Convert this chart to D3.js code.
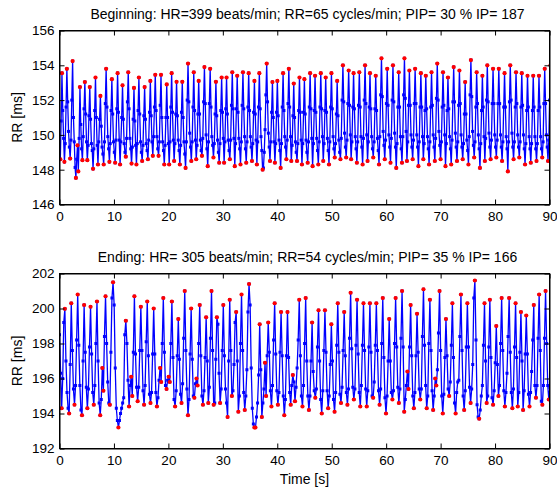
<!DOCTYPE html>
<html>
<head>
<meta charset="utf-8">
<script src="https://cdn.jsdelivr.net/npm/d3@7"></script>
<style>
  body { margin: 0; background: #fff; }
  text { font-family: "Liberation Sans", Arial, Helvetica, sans-serif; }
</style>
</head>
<body>
<div id="chart"></div>
<script>
// RR intervals [ms], beat by beat (peaks / troughs estimated per breath)
var beginningRR = [
  149.4, 148.6, 150.8, 153.55,
  151.4, 149.8, 148.45, 149.5, 151.6, 153.8,
  151.9, 150.2, 149.3, 148.64, 149.7, 152.0, 154.24,
  151.0, 149.6, 148.13, 147.53, 148.6, 149.4, 147.9, 149.8, 152.75,
  150.6, 149.2, 148.55, 149.9, 151.5, 153.04,
  151.2, 149.6, 148.55, 149.4, 151.1, 152.75,
  150.9, 149.5, 149.1, 148.05, 149.2, 151.4, 153.3,
  151.0, 149.4, 148.3, 149.6, 150.9, 152.24,
  150.5, 149.3, 148.9, 148.3, 149.6, 151.8, 153.8,
  151.6, 149.9, 149.2, 148.45, 149.5, 151.4, 153.2,
  151.2, 149.6, 149.0, 148.4, 149.7, 151.5, 153.55,
  151.3, 149.7, 148.3, 149.6, 151.0, 152.85,
  150.9, 149.5, 149.0, 148.75, 149.8, 151.9, 153.6,
  151.5, 149.8, 149.2, 148.35, 149.3, 150.9, 152.7,
  150.8, 149.4, 148.3, 149.5, 151.4, 153.3,
  151.2, 149.6, 149.0, 148.5, 149.4, 151.1, 152.75,
  150.9, 149.5, 149.1, 148.6, 149.7, 151.3, 153.1,
  151.1, 149.6, 148.8, 149.9, 151.6, 153.45,
  151.4, 149.9, 149.2, 148.8, 149.6, 151.7, 153.45,
  151.0, 149.6, 149.1, 148.3, 149.4, 151.0, 152.9,
  151.0, 149.5, 148.3, 149.6, 151.6, 153.55,
  151.3, 149.7, 148.5, 149.5, 151.2, 153.05,
  151.1, 149.7, 149.1, 148.3, 149.4, 151.3, 153.05,
  151.0, 149.6, 148.9, 148.1, 149.6, 152.0, 154.1,
  151.9, 150.1, 149.3, 148.5, 149.6, 151.6, 153.6,
  151.4, 149.7, 148.6, 149.4, 151.2, 153.1,
  151.2, 149.7, 149.1, 148.8, 149.8, 151.9, 153.9,
  151.8, 150.0, 149.2, 148.2, 149.6, 151.8, 153.8,
  151.6, 149.9, 149.4, 148.7, 149.5, 151.2, 153.05,
  151.1, 149.7, 149.0, 148.4, 149.5, 151.4, 153.3,
  151.3, 149.8, 148.4, 149.6, 151.5, 153.3,
  151.2, 149.7, 149.1, 148.6, 149.7, 151.7, 153.6,
  151.5, 149.8, 148.2, 149.5, 151.5, 153.4,
  151.3, 149.8, 149.2, 148.3, 149.6, 151.7, 153.6,
  151.5, 149.9, 149.2, 148.4, 149.6, 151.6, 153.55,
  151.4, 149.9, 149.3, 148.5, 149.5, 151.3, 153.1,
  151.2, 149.7, 148.3, 149.6, 151.6, 153.55,
  151.5, 149.9, 149.1, 148.0, 148.1, 149.0, 150.3, 152.3, 154.1,
  151.9, 150.1, 149.3, 148.5, 149.6, 151.3, 153.04,
  151.0, 149.6, 148.4, 149.5, 151.3, 153.1,
  151.1, 149.7, 149.1, 148.1, 149.5, 151.6, 153.55,
  151.4, 149.9, 149.3, 148.6, 149.7, 151.8, 153.8,
  151.6, 149.9, 148.5, 149.4, 151.1, 152.95,
  151.0, 149.6, 149.0, 148.5, 149.5, 151.4, 153.3,
  151.3, 149.7, 148.3, 149.5, 151.3, 153.2,
  151.2, 149.7, 149.0, 148.4, 149.6, 151.6, 153.55,
  151.5, 149.8, 148.2, 149.5, 151.4, 153.4,
  151.3, 149.8, 149.1, 148.3, 149.6, 151.6, 153.55,
  151.5, 149.9, 148.5, 149.5, 151.4, 153.3,
  151.3, 149.8, 149.1, 148.3, 149.6, 151.6, 153.55,
  151.5, 149.9, 149.2, 148.7, 149.5, 151.2, 153.1,
  151.1, 149.7, 149.0, 148.6, 149.8, 152.0, 154.0,
  151.9, 150.1, 149.3, 148.7, 149.7, 151.8, 153.7,
  151.7, 150.0, 148.6, 149.6, 151.6, 153.55,
  151.5, 149.9, 149.2, 148.4, 149.6, 151.7, 153.6,
  151.6, 149.9, 149.3, 148.3, 149.8, 152.0, 154.0,
  151.8, 150.0, 148.5, 149.6, 151.6, 153.55,
  151.5, 149.9, 149.2, 148.7, 149.6, 151.5, 153.4,
  151.4, 149.8, 149.1, 148.3, 149.9, 152.3, 154.4,
  152.2, 150.2, 149.4, 148.6, 149.7, 151.8, 153.8,
  151.7, 150.0, 149.3, 148.4, 149.8, 152.0, 154.0,
  151.9, 150.1, 149.3, 148.1, 149.5, 151.6, 153.6,
  151.6, 149.9, 149.2, 148.4, 149.9, 152.3, 154.4,
  152.1, 150.2, 148.5, 149.6, 151.7, 153.7,
  151.7, 150.0, 149.3, 148.6, 149.7, 151.8, 153.8,
  151.8, 150.0, 149.3, 148.2, 149.6, 151.6, 153.55,
  151.6, 149.9, 148.6, 149.5, 151.4, 153.4,
  151.5, 149.9, 149.2, 148.3, 149.6, 151.6, 153.6,
  151.7, 150.0, 149.3, 148.5, 149.8, 152.1, 154.1,
  152.0, 150.2, 149.4, 148.6, 149.6, 151.6, 153.6,
  151.7, 150.0, 148.2, 149.5, 151.4, 153.3,
  151.5, 149.9, 149.2, 148.3, 149.7, 151.9, 153.9,
  151.9, 150.1, 149.3, 148.5, 149.6, 151.7, 153.7,
  151.8, 150.0, 149.3, 148.6, 149.5, 151.2, 153.04,
  151.2, 149.7, 149.1, 148.3, 149.9, 152.3, 154.3,
  152.2, 150.2, 149.4, 148.7, 149.6, 151.6, 153.6,
  151.8, 150.0, 149.2, 148.1, 149.5, 151.4, 153.4,
  151.6, 149.9, 148.5, 149.8, 152.0, 154.0,
  151.9, 150.1, 149.3, 148.6, 149.7, 151.8, 153.8,
  151.8, 150.0, 149.3, 148.7, 149.7, 151.8, 153.8,
  151.8, 150.0, 149.3, 148.5, 149.6, 151.6, 153.55,
  151.6, 149.9, 149.2, 147.9, 149.6, 151.9, 154.0,
  152.0, 150.1, 149.3, 148.6, 149.6, 151.6, 153.6,
  151.8, 150.0, 149.3, 148.7, 149.6, 151.6, 153.55,
  151.7, 150.0, 149.2, 148.3, 149.5, 151.4, 153.4,
  151.6, 149.9, 149.2, 148.4, 149.5, 151.4, 153.4,
  151.6, 149.9, 149.2, 148.5, 149.5, 151.4, 153.4,
  151.6, 149.9, 149.2, 148.7, 149.6, 151.8, 153.8,
  151.8, 150.0, 149.3, 148.5, 149.7, 152.0, 154.0,
  151.9, 150.1, 149.2, 148.6, 149.5, 151.3, 153.2
]

var endingRR = [
  198.5, 196.3, 194.3, 196.0, 199.2, 199.98,
  197.0, 195.2, 194.3, 194.0, 196.8, 200.3,
  197.6, 195.4, 194.5, 195.6, 198.2, 200.8,
  197.9, 195.6, 194.2, 193.9, 197.0, 200.2,
  197.5, 195.5, 194.3, 195.4, 197.8, 200.1,
  197.4, 195.2, 194.5, 195.6, 198.0, 200.4,
  197.0, 194.6, 193.9, 194.8, 196.6,
  195.3, 198.4, 200.7,
  198.0, 195.8, 194.6, 194.5, 197.5, 200.6, 201.5,
  200.2, 196.6, 194.3, 193.6, 193.2, 193.6, 194.0, 194.3, 194.6, 194.9, 198.5, 199.3,
  198.0, 195.9, 194.4, 195.6, 196.1, 195.0, 197.5, 200.7,
  197.4, 195.5, 194.7, 195.5, 197.6, 200.1,
  197.6, 195.3, 194.5, 195.6, 198.1, 200.4,
  197.3, 195.1, 194.6, 195.2, 197.4, 200.0,
  197.4, 195.2, 194.4, 194.9, 195.9, 196.6,
  195.8, 198.0, 200.6,
  197.5, 195.6, 195.4, 195.9, 196.1,
  195.8, 198.0, 200.4,
  197.2, 194.8, 194.4, 195.3, 197.3, 199.4,
  197.1, 195.1, 194.6, 195.7, 198.3, 201.0,
  197.6, 195.4, 193.9, 194.8, 197.4, 200.0,
  197.1, 195.0, 194.9, 195.7, 196.0,
  195.6, 198.0, 200.2,
  197.3, 195.0, 194.5, 195.3, 197.2, 199.5,
  197.0, 194.6, 195.5, 198.3, 201.0,
  197.6, 194.5, 194.6, 197.1, 199.5,
  199.1, 196.3, 194.6, 195.4, 197.6, 200.2,
  197.3, 195.4, 194.6, 193.8, 197.0, 200.5,
  197.6, 195.0, 195.3, 196.8, 199.2, 199.8,
  197.0, 194.1, 195.0, 198.0, 200.8,
  197.6, 195.2, 194.2, 195.0, 196.5, 199.8, 201.4,
  200.2, 196.6, 194.3, 193.4, 193.2, 193.2, 193.8, 194.6, 196.2, 199.1,
  196.5, 193.8, 194.6, 195.4, 196.9, 195.0, 197.3, 199.2,
  197.5, 195.3, 194.4, 195.6, 198.2, 200.3,
  197.4, 195.3, 194.5, 195.2, 197.5, 199.8,
  197.3, 195.0, 193.9, 194.8, 197.3, 199.8,
  197.2, 195.2, 194.5, 195.6, 196.2, 195.8, 194.7, 195.5, 196.6, 198.2, 200.5,
  197.3, 195.0, 194.4, 195.6, 198.0, 200.6,
  197.0, 195.0, 194.2, 195.0, 197.0, 199.2,
  196.4, 195.3, 194.9, 195.4, 197.8, 199.9,
  197.0, 194.8, 194.0, 195.3, 197.6, 199.9,
  197.5, 195.3, 194.3, 195.0, 196.8, 199.1,
  197.0, 194.8, 194.1, 195.2, 197.9, 200.3,
  197.5, 195.1, 194.6, 195.5, 197.6, 199.8,
  197.3, 195.2, 194.5, 195.4, 198.3, 200.9,
  197.7, 195.5, 194.8, 195.4, 197.9, 200.5,
  197.4, 195.2, 194.4, 195.6, 197.9, 200.3,
  197.6, 195.4, 194.4, 195.3, 197.8, 200.3,
  197.5, 195.0, 194.9, 195.8, 197.9, 200.3,
  197.6, 195.3, 194.5, 195.4, 198.0, 200.6,
  197.2, 194.9, 194.0, 195.0, 197.0, 199.4,
  197.0, 195.2, 194.8, 195.3, 198.0, 200.6,
  197.8, 195.5, 194.6, 195.4, 198.3, 201.0,
  197.8, 194.1, 194.8, 195.6, 196.4,
  195.4, 197.8, 200.2,
  197.3, 195.0, 194.3, 195.2, 197.3, 199.7,
  197.5, 195.4, 194.8, 195.4, 198.4, 201.1,
  197.9, 195.6, 194.3, 195.0, 198.0, 200.5,
  197.6, 195.3, 194.2, 195.0, 196.0, 195.6, 196.5, 198.6, 201.0,
  197.6, 195.0, 194.0, 195.1, 197.2, 199.4,
  197.3, 195.4, 195.0, 195.8, 197.9, 200.3,
  197.2, 194.6, 194.0, 195.2, 195.8,
  195.9, 198.4, 200.8,
  197.6, 195.0, 194.2, 195.3, 197.8, 200.3,
  197.8, 195.5, 194.6, 195.4, 196.8, 200.6, 201.6,
  198.2, 194.5, 193.8, 193.7, 194.2, 195.0, 195.6, 197.9, 200.3,
  197.0, 194.6, 195.0, 197.8, 200.5,
  197.2, 194.9, 194.5, 195.3, 196.9, 199.0,
  196.8, 195.0, 195.6, 198.0, 200.6,
  197.6, 195.3, 194.4, 195.2, 196.3, 198.4, 200.6,
  197.5, 195.2, 194.3, 195.4, 197.8, 200.3,
  197.2, 194.4, 195.2, 197.5, 199.8,
  197.0, 194.2, 195.3, 197.4, 199.6,
  197.4, 195.1, 194.4, 195.2, 196.4, 198.2, 200.2,
  195.6, 194.9, 195.6, 198.3, 200.8,
  197.6, 194.7, 194.5, 195.6, 198.3, 201.0,
  198.0, 195.6, 194.8, 195.5, 197.9, 200.4,
  197.6, 195.3, 194.6, 195.6
]

var timeTicks = [0, 10, 20, 30, 40, 50, 60, 70, 80, 90]
var beginningTicks = [146, 148, 150, 152, 154, 156]
var endingTicks = [192, 194, 196, 198, 200, 202]
var beginningTitle = "Beginning: HR=399 beats/min; RR=65 cycles/min; PIP= 30 % IP= 187"
var endingTitle = "Ending: HR= 305 beats/min; RR=54 cycles/min; PIP= 35 % IP= 166"

var width = 557,
  height = 491

var svg = d3
  .select("#chart")
  .append("svg")
  .attr("width", width)
  .attr("height", height)

var x = d3.scaleLinear().domain([0, 90]).range([59.5, 549.5])

// beat times are the running sum of the RR intervals
function toBeats(rr) {
  var t = 0
  return rr.map(function(v) {
    var b = { t: t, v: v }
    t += v / 1000
    return b
  })
}

function isExtremum(d, i, all) {
  if (i == 0 || i == all.length - 1) return false
  var a = all[i - 1].v,
    c = all[i + 1].v
  var isMax = d.v >= a && d.v >= c && (d.v > a || d.v > c)
  var isMin = d.v <= a && d.v <= c && (d.v < a || d.v < c)
  return isMax || isMin
}

function drawPanel(rr, ticks, top, bottom, title, id, xLabel) {
  var y = d3
    .scaleLinear()
    .domain([ticks[0], ticks[ticks.length - 1]])
    .range([bottom, top])

  var beats = toBeats(rr)
  var g = svg.append("g")

  g.append("clipPath")
    .attr("id", id)
    .append("rect")
    .attr("x", x(0))
    .attr("y", top)
    .attr("width", x(90) - x(0))
    .attr("height", bottom - top)

  var plot = g.append("g").attr("clip-path", "url(#" + id + ")")

  var line = d3
    .line()
    .x(function(d) { return x(d.t) })
    .y(function(d) { return y(d.v) })

  plot
    .append("path")
    .datum(beats)
    .attr("fill", "none")
    .attr("stroke", "#0000ff")
    .attr("stroke-width", 1.3)
    .attr("d", line)

  plot
    .selectAll("rect.beat")
    .data(beats)
    .enter()
    .append("rect")
    .attr("class", "beat")
    .attr("x", function(d) { return x(d.t) - 1.5 })
    .attr("y", function(d) { return y(d.v) - 1.5 })
    .attr("width", 3)
    .attr("height", 3)
    .attr("fill", "#0000ff")

  plot
    .selectAll("circle.ext")
    .data(beats.filter(isExtremum))
    .enter()
    .append("circle")
    .attr("class", "ext")
    .attr("cx", function(d) { return x(d.t) })
    .attr("cy", function(d) { return y(d.v) })
    .attr("r", 2.1)
    .attr("fill", "#ff0000")

  /* ------- AXES, ticks pointing inwards -------*/
  g.append("g")
    .attr("transform", "translate(0," + bottom + ")")
    .call(d3.axisBottom(x).tickValues(timeTicks).tickSizeInner(-5).tickSizeOuter(0).tickPadding(7))
  g.append("g")
    .attr("transform", "translate(0," + top + ")")
    .call(d3.axisTop(x).tickValues(timeTicks).tickSizeInner(-5).tickSizeOuter(0).tickFormat(""))
  g.append("g")
    .attr("transform", "translate(" + x(0) + ",0)")
    .call(d3.axisLeft(y).tickValues(ticks).tickSizeInner(-5).tickSizeOuter(0).tickPadding(5))
  g.append("g")
    .attr("transform", "translate(" + x(90) + ",0)")
    .call(d3.axisRight(y).tickValues(ticks).tickSizeInner(-5).tickSizeOuter(0).tickFormat(""))

  g.selectAll(".tick text").attr("font-size", 13.5).attr("fill", "#000")
  g.selectAll(".tick line, .domain").attr("stroke", "#000")

  g.append("rect")
    .attr("x", x(0))
    .attr("y", top)
    .attr("width", x(90) - x(0))
    .attr("height", bottom - top)
    .attr("fill", "none")
    .attr("stroke", "#000")

  g.append("text")
    .attr("x", (x(0) + x(90)) / 2 + 3)
    .attr("y", top - 12)
    .attr("text-anchor", "middle")
    .attr("font-size", 14)
    .text(title)

  g.append("text")
    .attr("transform", "translate(22," + (top + bottom) / 2 + ") rotate(-90)")
    .attr("text-anchor", "middle")
    .attr("font-size", 14)
    .text("RR [ms]")

  if (xLabel) {
    g.append("text")
      .attr("x", (x(0) + x(90)) / 2)
      .attr("y", bottom + 35)
      .attr("text-anchor", "middle")
      .attr("font-size", 14)
      .text(xLabel)
  }
}

drawPanel(beginningRR, beginningTicks, 30.5, 204.5, beginningTitle, "clip-top", null)
drawPanel(endingRR, endingTicks, 273.5, 448.5, endingTitle, "clip-bottom", "Time [s]")
</script>
</body>
</html>
